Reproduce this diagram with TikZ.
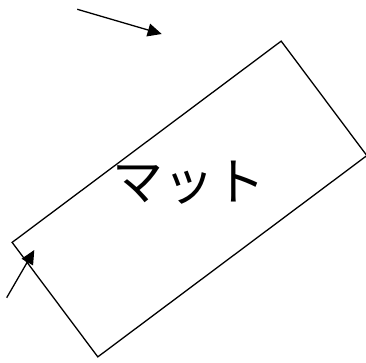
\documentclass[tikz,border=0pt]{standalone}
\usepackage{fontspec}
\usepackage{tikz}
\usetikzlibrary{arrows.meta,positioning}
\newfontfamily\jpfont{Noto Sans CJK JP}

\begin{document}
\begin{tikzpicture}[x=1pt, y=1pt, line width=1.3pt]
            \useasboundingbox (0,0) rectangle (366,363);

            % Mat (rotated rectangle)
            \node[draw, rotate=36.8, minimum width=336pt, minimum height=143pt, inner sep=0pt] (mat) at (189.5,164) {};

            % Label
            \node[font=\jpfont\fontsize{51}{51}\selectfont, inner sep=0pt] (label) at (189,180) {マット};

            % Arrows
            \coordinate (topstart) at (77.3,353.7);
            \coordinate (topend) at (161.7,329);
            \draw[-{Triangle[length=14pt, width=13pt]}] (topstart) -- (topend);

            \coordinate (cornerstart) at (6.7,65.3);
            \coordinate (cornerend) at (34.3,113);
            \draw[-{Triangle[length=14pt, width=13pt]}] (cornerstart) -- (cornerend);
        \end{tikzpicture}
\end{document}
